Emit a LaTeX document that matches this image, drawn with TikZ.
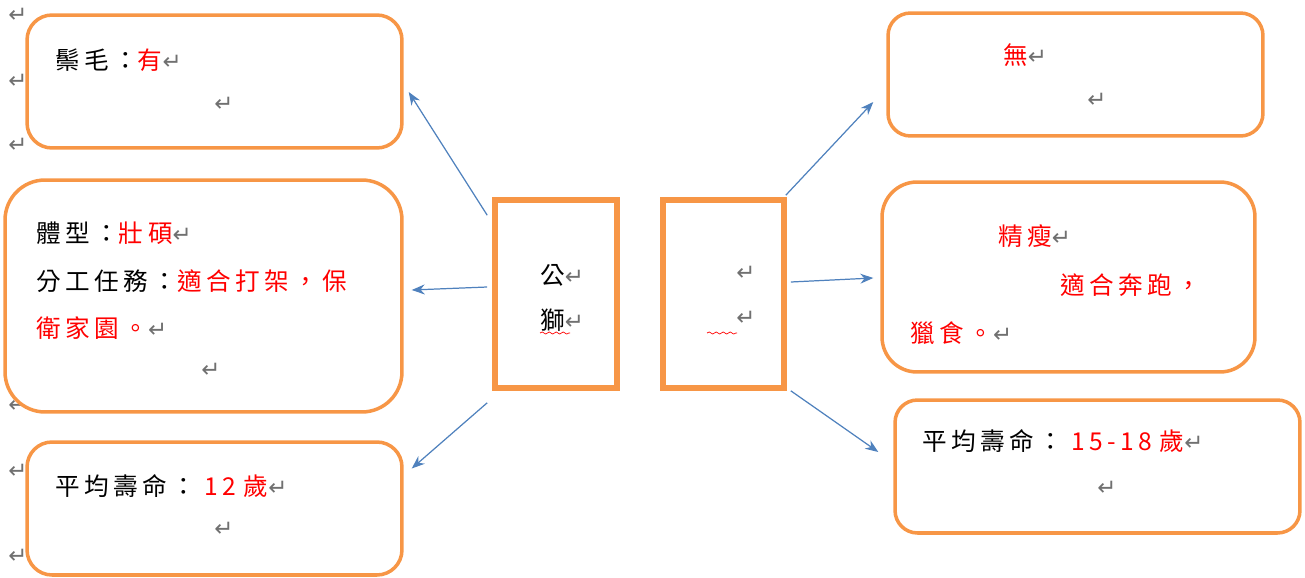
\documentclass[tikz,border=0pt]{standalone}
\usepackage{fontspec}
\usepackage{xcolor}
\usepackage{tikz}
\usetikzlibrary{calc,positioning,arrows.meta,decorations.pathmorphing}
\setmainfont{Noto Sans CJK TC}[LetterSpace=18]
\newfontfamily\retfont{DejaVu Sans}
\definecolor{boxorange}{HTML}{F79646}
\definecolor{linkblue}{HTML}{4F81BD}
\definecolor{retgray}{HTML}{707070}
\newcommand{\ret}{{\retfont\fontsize{13}{13}\selectfont\color{retgray}↵}}
\newcommand{\hl}[1]{\textcolor{red}{#1}}

\begin{document}
\begin{tikzpicture}[x=0.02cm, y=-0.02cm, font=\fontsize{14}{14}\selectfont,
    infobox/.style={draw=boxorange, fill=white, line width=2pt, inner sep=0pt},
    lionbox/.style={draw=boxorange, fill=white, line width=3.2pt, inner sep=0pt},
    txt/.style={anchor=base west, inner sep=0pt},
    link/.style={draw=linkblue, line width=0.7pt, -{Stealth[length=2.6mm, width=2mm]}},
    spell/.style={red, line width=0.4pt, decorate, decoration={snake, amplitude=0.6pt, segment length=1.4mm}}]
    \useasboundingbox (0,0) rectangle (1305,578);

    % stray marks in the margin
    \foreach \y [count=\i] in {22,88,152,412,478,563}
        \node [txt] (margin\i) at (8,\y) {\ret};

    % left side
    \node [infobox, rounded corners=0.5cm, minimum width=7.5cm, minimum height=2.66cm] (mane) at (214.5,81.5) {};
    \node [infobox, rounded corners=0.8cm, minimum width=7.94cm, minimum height=4.64cm] (build) at (203.5,296) {};
    \node [infobox, rounded corners=0.5cm, minimum width=7.5cm, minimum height=2.66cm] (lifeL) at (214.5,508.5) {};

    % middle
    \node [lionbox, minimum width=2.44cm, minimum height=3.76cm] (lion) at (556,294) {};
    \node [lionbox, minimum width=2.42cm, minimum height=3.76cm] (lioness) at (723.5,294) {};

    % right side
    \node [infobox, rounded corners=0.45cm, minimum width=7.5cm, minimum height=2.46cm] (nomane) at (1075.5,74.5) {};
    \node [infobox, rounded corners=0.7cm, minimum width=7.46cm, minimum height=3.8cm] (lean) at (1068.5,277) {};
    \node [infobox, rounded corners=0.45cm, minimum width=8.1cm, minimum height=2.66cm] (lifeR) at (1097.5,466.5) {};

    \node [txt] (maneA) at (55,69) {鬃毛：\hl{有}\ret};
    \node [txt] (maneB) at (214,111) {\ret};

    \node [txt] (buildA) at (36,242) {體型：\hl{壯碩}\ret};
    \node [txt] (buildB) at (36,290) {分工任務：\hl{適合打架，保}};
    \node [txt] (buildC) at (36,337) {\hl{衛家園。}\ret};
    \node [txt] (buildD) at (201,377) {\ret};

    \node [txt] (lifeLA) at (55,495) {平均壽命：\hspace{0.35em}\hl{12\hspace{0.3em}歲}\ret};
    \node [txt] (lifeLB) at (214,536) {\ret};

    \node [txt] (lionA) at (540,284) {公\ret};
    \node [txt] (lionB) at (540,329) {獅\ret};
    \node [txt] (lionessA) at (736,280) {\ret};
    \node [txt] (lionessB) at (736,325) {\ret};

    \node [txt] (nomaneA) at (1003,64) {\hl{無}\ret};
    \node [txt] (nomaneB) at (1087,107) {\ret};

    \node [txt] (leanA) at (998,245) {\hl{精瘦}\ret};
    \node [txt] (leanB) at (1060,294) {\hl{適合奔跑，}};
    \node [txt] (leanC) at (910,342) {\hl{獵食。}\ret};

    \node [txt] (lifeRA) at (922,450) {平均壽命：\hspace{0.35em}\hl{15-18\hspace{0.3em}歲}\ret};
    \node [txt] (lifeRB) at (1097,495) {\ret};

    % spelling marks
    \draw [spell] ([shift={(0,4)}]lionB.base west) -- ++(30,0);
    \draw [spell] ([shift={(-29,8)}]lionessB.base west) -- ++(30,0);

    % links
    \draw [link] ([shift={(-5,18)}]lion.north west) -- ([shift={(5,10.5)}]mane.east);
    \draw [link] ([shift={(-5,-7)}]lion.west) -- ([shift={(8,-6)}]build.east);
    \draw [link] ([shift={(-5,12)}]lion.south west) -- ([shift={(8,-40)}]lifeL.east);
    \draw [link] ([shift={(-1,-2)}]lioness.north east) -- ([shift={(-13,27.5)}]nomane.west);
    \draw [link] ([shift={(4,-12)}]lioness.east) -- ([shift={(-7,1)}]lean.west);
    \draw [link] ([shift={(4,0)}]lioness.south east) -- ([shift={(-15,-14.5)}]lifeR.west);

\end{tikzpicture}
\end{document}
